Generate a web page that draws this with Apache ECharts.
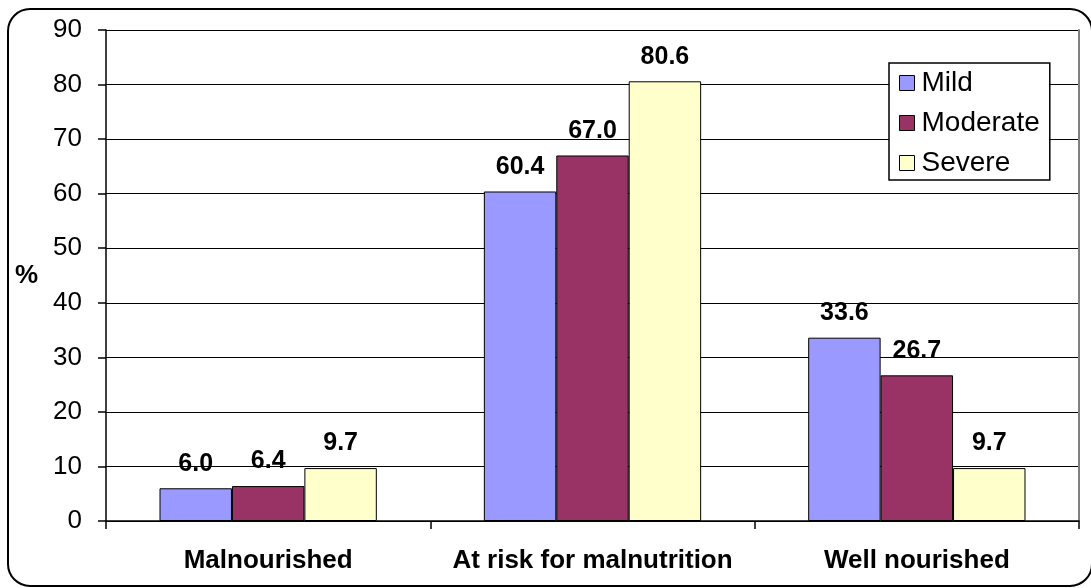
<!DOCTYPE html>
<html>
<head>
<meta charset="utf-8">
<script src="https://cdn.jsdelivr.net/npm/echarts@6/dist/echarts.min.js"></script>
<style>
html,body{margin:0;padding:0;background:#fff;}
#chart{width:1091px;height:588px;}
</style>
</head>
<body>
<div id="chart"></div>
<script>
const categories = ['Malnourished', 'At risk for malnutrition', 'Well nourished'];
const seriesNames = ['Mild', 'Moderate', 'Severe'];
const mild = [6.0, 60.4, 33.6];
const moderate = [6.4, 67.0, 26.7];
const severe = [9.7, 80.6, 9.7];
const yTicks = [0, 10, 20, 30, 40, 50, 60, 70, 80, 90];

const colors = ['#9999FF', '#993366', '#FFFFCC'];
const font = 'Arial, "Liberation Sans", sans-serif';
const chart = echarts.init(document.getElementById('chart'), null, {renderer: 'canvas'});

function bar(name, data, color) {
  return {
    name: name, type: 'bar', data: data,
    barGap: '0%', barCategoryGap: '33%',
    itemStyle: {color: color, borderColor: '#000', borderWidth: 1},
    label: {
      show: true, position: 'top', distance: 12,
      formatter: p => p.value.toFixed(1),
      fontFamily: font, fontWeight: 'bold', fontSize: 25, color: '#000'
    }
  };
}

chart.setOption({
  animation: false,
  backgroundColor: '#fff',
  grid: {left: 106, right: 12, top: 30, bottom: 67},
  graphic: [{
    type: 'rect', z: -1,
    shape: {x: 8, y: 9, width: 1084, height: 577, r: 22},
    style: {fill: 'none', stroke: '#000', lineWidth: 2}
  }],
  legend: {
    orient: 'vertical', left: 889, top: 63,
    data: seriesNames,
    backgroundColor: '#fff',
    borderColor: '#000', borderWidth: 1.5, borderRadius: 0,
    padding: [5, 10, 2, 10],
    itemWidth: 15, itemHeight: 15, itemGap: 10,
    icon: 'rect',
    itemStyle: {borderColor: '#000', borderWidth: 1},
    textStyle: {fontFamily: font, fontSize: 28, color: '#000', lineHeight: 30, padding: [0, 0, 0, 2]}
  },
  xAxis: {
    type: 'category', data: categories,
    axisLine: {show: true, lineStyle: {color: '#000', width: 1.5}},
    axisTick: {show: true, length: 8, lineStyle: {color: '#000', width: 1.5}},
    axisLabel: {interval: 0, fontFamily: font, fontWeight: 'bold', fontSize: 26, color: '#000', margin: 27}
  },
  yAxis: [{
    type: 'value', min: 0, max: 90, interval: 10,
    name: '%', nameLocation: 'middle', nameRotate: 0, nameGap: 68,
    nameTextStyle: {fontFamily: font, fontWeight: 'bold', fontSize: 26, color: '#000', padding: [6, 0, 0, 0]},
    axisLine: {show: true, lineStyle: {color: '#000', width: 1.5}},
    axisTick: {show: true, length: 8, lineStyle: {color: '#000', width: 1.5}},
    splitLine: {show: true, lineStyle: {color: '#000', width: 1.2}},
    axisLabel: {fontFamily: font, fontSize: 26, color: '#000', margin: 24,
      formatter: v => yTicks.includes(v) ? String(v) : ''}
  }, {
    type: 'value', min: 0, max: 90, interval: 10, position: 'right',
    axisLine: {show: true, lineStyle: {color: '#808080', width: 2}},
    axisTick: {show: false}, axisLabel: {show: false}, splitLine: {show: false}
  }],
  series: [
    bar(seriesNames[0], mild, colors[0]),
    bar(seriesNames[1], moderate, colors[1]),
    bar(seriesNames[2], severe, colors[2])
  ]
});
</script>
</body>
</html>
